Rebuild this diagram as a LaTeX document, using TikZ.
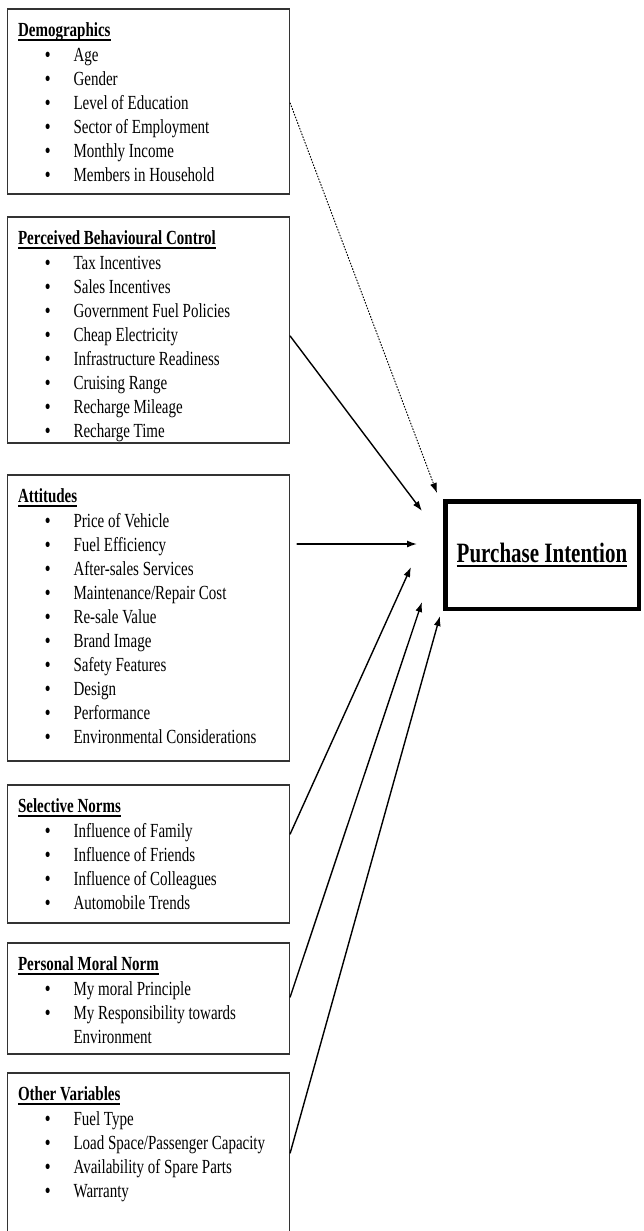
\documentclass[tikz,border=0pt]{standalone}
\usepackage{fontspec}
\setmainfont{Liberation Serif}[FakeStretch=0.75]
\usetikzlibrary{arrows.meta}

% heading with a Word-like underline, list item, continued item line
\newcommand{\hdg}[1]{\setbox0\hbox{\bfseries #1}\rlap{\rule[-0.18em]{\wd0}{0.07em}}\box0}
\newcommand{\itm}[1]{\\\hspace*{27pt}\makebox[28.5pt][l]{\bfseries\textbullet}#1}
\newcommand{\cont}[1]{\\\hspace*{55.5pt}#1}

\tikzset{
  catbox/.style={draw=black!80, line width=1.3pt, inner sep=0pt, line join=miter},
  catlist/.style={anchor=north west, align=left, inner sep=0pt, font=\fontsize{20}{24.1}\selectfont},
  link/.style={line width=1.4pt, -{Latex[length=10pt,width=7pt]}},
}

\begin{document}
\begin{tikzpicture}[x=1pt, y=-1pt, line cap=round]
  \useasboundingbox (0,0) rectangle (643,1231);
  % ── category boxes (left column) ──
  \foreach \nm/\yt/\yb in {demo/9/194, pbc/217/443, att/475/761, sn/785/923, pmn/943/1054, oth/1073/1242} {
    \node[catbox, minimum width=282pt, minimum height={(\yb-\yt)*1pt}] (\nm) at (148.5,{(\yt+\yb)/2}) {};
  }
  % ── box contents ──
  \node[catlist] (demo-list) at ([xshift=11pt,yshift=-14.5pt]demo.north west)
    {\hdg{Demographics}\itm{Age}\itm{Gender}\itm{Level of Education}\itm{Sector of Employment}\itm{Monthly Income}\itm{Members in Household}};
  \node[catlist] (pbc-list) at ([xshift=11pt,yshift=-14.5pt]pbc.north west)
    {\hdg{Perceived Behavioural Control}\itm{Tax Incentives}\itm{Sales Incentives}\itm{Government Fuel Policies}\itm{Cheap Electricity}\itm{Infrastructure Readiness}\itm{Cruising Range}\itm{Recharge Mileage}\itm{Recharge Time}};
  \node[catlist] (att-list) at ([xshift=11pt,yshift=-14.5pt]att.north west)
    {\hdg{Attitudes}\itm{Price of Vehicle}\itm{Fuel Efficiency}\itm{After-sales Services}\itm{Maintenance/Repair Cost}\itm{Re-sale Value}\itm{Brand Image}\itm{Safety Features}\itm{Design}\itm{Performance}\itm{Environmental Considerations}};
  \node[catlist] (sn-list) at ([xshift=11pt,yshift=-14.5pt]sn.north west)
    {\hdg{Selective Norms}\itm{Influence of Family}\itm{Influence of Friends}\itm{Influence of Colleagues}\itm{Automobile Trends}};
  \node[catlist] (pmn-list) at ([xshift=11pt,yshift=-14.5pt]pmn.north west)
    {\hdg{Personal Moral Norm}\itm{My moral Principle}\itm{My Responsibility towards}\cont{Environment}};
  \node[catlist] (oth-list) at ([xshift=11pt,yshift=-14.5pt]oth.north west)
    {\hdg{Other Variables}\itm{Fuel Type}\itm{Load Space/Passenger Capacity}\itm{Availability of Spare Parts}\itm{Warranty}};
  % ── outcome ──
  \node[draw, line width=4.5pt, minimum width=193.5pt, minimum height=107.5pt, inner sep=0pt,
        font=\fontsize{28}{28}\selectfont] (pi) at (542,555) {\hdg{Purchase Intention}};
  % ── arrow ends in front of the outcome box ──
  \coordinate (in-demo) at (437,493);
  \coordinate (in-pbc)  at (422,511);
  \coordinate (in-att)  at (417,544);
  \coordinate (in-sn)   at (411,567);
  \coordinate (in-pmn)  at (422,602);
  \coordinate (in-oth)  at (440,616);
  % ── links ──
  \draw[link, line width=1pt, dotted] ([yshift=-1.5pt]demo.east) -- (in-demo);
  \draw[link] ([yshift=-6pt]pbc.east) -- (in-pbc);
  \draw[link] ([xshift=7pt,yshift=74pt]att.east) -- (in-att);
  \draw[link] ([yshift=20pt]sn.east) -- (in-sn);
  \draw[link] ([yshift=1.5pt]pmn.east) -- (in-pmn);
  \draw[link] ([yshift=4.5pt]oth.east) -- (in-oth);
\end{tikzpicture}
\end{document}
